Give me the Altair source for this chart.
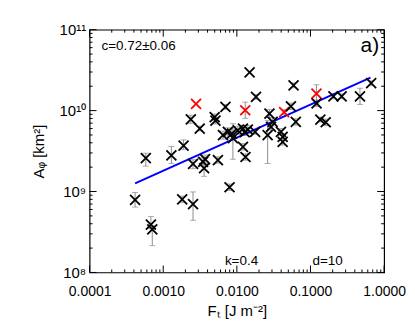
import altair as alt
import pandas as pd
import numpy as np

# ---- data ----
F_T = [4.15e-4, 5.8e-4, 6.8e-4, 7.1e-4, 1.29e-3, 1.81e-3, 1.89e-3, 2.54e-3, 2.54e-3, 3.48e-3,
       3.70e-3, 3.59e-3, 5.53e-3, 7.96e-3, 2.37e-3, 2.79e-3, 3.13e-3, 5.0e-3, 5.12e-3, 7.0e-3,
       6.48e-3, 7.55e-3, 8.55e-3, 8.84e-3, 1.03e-2, 1.21e-2, 1.41e-2, 1.28e-2, 1.21e-2, 1.31e-2,
       1.49e-2, 1.82e-2, 1.30e-2, 1.77e-2, 2.62e-2, 2.77e-2, 2.91e-2, 3.06e-2, 3.97e-2, 4.19e-2,
       4.19e-2, 4.39e-2, 5.42e-2, 5.89e-2, 6.32e-2, 0.1205, 0.121, 0.136, 0.161, 0.205,
       0.265, 0.47, 0.667]
A_phi = [7.9e8, 2.59e9, 3.9e8, 3.4e8, 2.8e9, 8.0e8, 3.7e9, 2.2e9, 7.0e8, 2.33e9,
         2.52e9, 1.94e9, 2.45e9, 1.13e9, 7.8e9, 1.21e10, 6.0e9, 8.3e9, 7.5e9, 1.11e10,
         4.97e9, 5.46e9, 5.2e9, 4.56e9, 5.7e9, 6.0e9, 5.84e9, 5.4e9, 3.57e9, 2.67e9,
         2.96e10, 1.48e10, 1.01e10, 5.46e9, 4.97e9, 9.2e9, 6.3e9, 7.24e9, 5.46e9, 4.73e9,
         4.11e9, 9.6e9, 1.13e10, 2.05e10, 7.24e9, 1.62e10, 1.23e10, 7.75e9, 7.18e9, 1.5e10,
         1.5e10, 1.5e10, 2.18e10]
# error bars in dex (up / down)
err_up = [0.09, 0.06, 0.10, 0.05, 0.11, 0.04, 0.07, 0.05, 0.15, 0.05,
          0.05, 0.05, 0.04, 0.04, 0.05, 0.0, 0.03, 0.04, 0.04, 0.03,
          0.05, 0.05, 0.06, 0.18, 0.05, 0.04, 0.05, 0.04, 0.04, 0.04,
          0.0, 0.03, 0.10, 0.03, 0.18, 0.05, 0.04, 0.05, 0.04, 0.04,
          0.04, 0.03, 0.04, 0.03, 0.04, 0.11, 0.04, 0.03, 0.04, 0.03,
          0.03, 0.10, 0.03]
err_dn = [0.09, 0.10, 0.05, 0.20, 0.10, 0.04, 0.05, 0.06, 0.20, 0.05,
          0.05, 0.10, 0.04, 0.04, 0.05, 0.0, 0.03, 0.04, 0.04, 0.03,
          0.05, 0.05, 0.06, 0.26, 0.05, 0.04, 0.05, 0.04, 0.04, 0.04,
          0.0, 0.03, 0.10, 0.03, 0.35, 0.05, 0.04, 0.05, 0.04, 0.04,
          0.04, 0.03, 0.04, 0.03, 0.04, 0.12, 0.04, 0.03, 0.04, 0.03,
          0.03, 0.10, 0.03]
red_idx = [15, 32, 41, 45]

fit_x = [4.15e-4, 0.653]
fit_y = [1.26e9, 2.55e10]

x_major = [1e-4, 1e-3, 1e-2, 1e-1, 1e0]
y_major = [1e8, 1e9, 1e10, 1e11]

W, H = 296, 244
XD = [1e-4, 1.0]
YD = [1e8, 1e11]
FONT = "Liberation Sans"

group = ["red" if i in red_idx else "black" for i in range(len(F_T))]
df = pd.DataFrame({"F": F_T, "A": A_phi, "up": err_up, "dn": err_dn, "g": group})
df["hi"] = df["A"] * 10 ** df["up"]
df["lo"] = df["A"] * 10 ** (-df["dn"])
dfe = df[(df["up"] > 0) | (df["dn"] > 0)]

xs = alt.Scale(type="log", domain=XD, nice=False)
ys = alt.Scale(type="log", domain=YD, nice=False)

x_minor = [k * 10.0 ** n for n in range(-4, 0) for k in range(2, 10)]
y_minor = [k * 10.0 ** n for n in range(8, 11) for k in range(2, 10)]

ylab = ("datum.value >= 1e11 ? '10\u00b9\u00b9' : datum.value >= 1e10 ? '10\u00b9\u2070' : "
        "datum.value >= 1e9 ? '10\u2079' : '10\u2078'")

xax = alt.Axis(values=x_major, format=".4f", ticks=False, domain=False, grid=False,
               labelFlush=False, labelOverlap=False, labelBound=False,
               labelFont=FONT, labelFontSize=14, labelColor="black", labelPadding=12,
               title="F\u209c [J m\u207b\u00b2]", titleFont=FONT, titleFontSize=15,
               titleFontWeight="normal", titleColor="black", titlePadding=5)
yax = alt.Axis(values=y_major, labelExpr=ylab, ticks=False, domain=False, grid=False,
               labelFlush=False, labelOverlap=False, labelBound=False,
               labelFont=FONT, labelFontSize=15, labelColor="black", labelPadding=4,
               title="A\u1d69 [km\u00b2]", titleFont=FONT, titleFontSize=15,
               titleFontWeight="normal", titleColor="black", titlePadding=13)

err_rule = alt.Chart(dfe).mark_rule(color="#8c8c8c", strokeWidth=1).encode(
    x=alt.X("F:Q", scale=xs, axis=xax), y=alt.Y("lo:Q", scale=ys, axis=yax), y2="hi:Q")
cap_hi = alt.Chart(dfe).mark_tick(color="#8c8c8c", orient="horizontal", size=6, thickness=1).encode(
    x=alt.X("F:Q", scale=xs, axis=xax), y=alt.Y("hi:Q", scale=ys, axis=yax))
cap_lo = alt.Chart(dfe).mark_tick(color="#8c8c8c", orient="horizontal", size=6, thickness=1).encode(
    x=alt.X("F:Q", scale=xs, axis=xax), y=alt.Y("lo:Q", scale=ys, axis=yax))

pts = alt.Chart(df).mark_point(shape="M-1,-1L1,1M-1,1L1,-1", size=100, strokeWidth=1.8,
                               filled=False, opacity=1).encode(
    x=alt.X("F:Q", scale=xs, axis=xax),
    y=alt.Y("A:Q", scale=ys, axis=yax),
    color=alt.Color("g:N", scale=alt.Scale(domain=["black", "red"], range=["black", "#ff0000"]),
                    legend=None),
)

fit = alt.Chart(pd.DataFrame({"x": fit_x, "y": fit_y})).mark_line(color="#0000ff", strokeWidth=2).encode(
    x=alt.X("x:Q", scale=xs, axis=xax), y=alt.Y("y:Q", scale=ys, axis=yax))

# inward ticks on all four sides
def yticks(vals, ln):
    d = pd.DataFrame({"v": vals})
    l = alt.Chart(d).mark_rule(color="black").encode(
        y=alt.Y("v:Q", scale=ys, axis=yax), x=alt.value(0), x2=alt.value(ln))
    r = alt.Chart(d).mark_rule(color="black").encode(
        y=alt.Y("v:Q", scale=ys, axis=yax), x=alt.value(W - ln), x2=alt.value(W))
    return l + r

def xticks(vals, ln):
    d = pd.DataFrame({"v": vals})
    b = alt.Chart(d).mark_rule(color="black").encode(
        x=alt.X("v:Q", scale=xs, axis=xax), y=alt.value(H - ln), y2=alt.value(H))
    t = alt.Chart(d).mark_rule(color="black").encode(
        x=alt.X("v:Q", scale=xs, axis=xax), y=alt.value(0), y2=alt.value(ln))
    return b + t

ticks = yticks(y_major, 7) + yticks(y_minor, 3) + xticks(x_major, 7) + xticks(x_minor, 3)

def label(txt, x, y, size, align="left"):
    return alt.Chart(pd.DataFrame({"t": [txt]})).mark_text(
        font=FONT, fontSize=size, align=align, baseline="middle", color="black").encode(
        text="t:N", x=alt.value(x), y=alt.value(y))

texts = (label("c=0.72\u00b10.06", 12, 16, 13.5) + label("a)", 291, 16, 21, "right")
         + label("k=0.4", 136, 233, 13.5) + label("d=10", 224, 233, 13.5))

chart = alt.layer(err_rule, cap_hi, cap_lo, fit, pts, ticks, texts).properties(
    width=W, height=H,
    background="white",
    autosize=alt.AutoSizeParams(type="none"),
    padding={"left": 82, "top": 21, "right": 23, "bottom": 48},
).configure_view(stroke="black", strokeWidth=1.2)

chart.save("out.html", embed_options={"renderer": "svg", "actions": False})
